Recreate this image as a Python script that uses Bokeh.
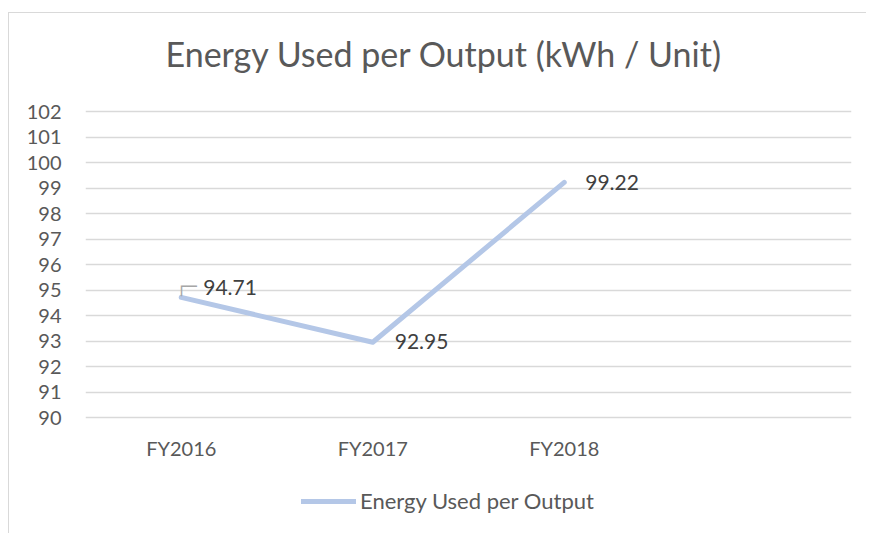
from bokeh.plotting import figure
from bokeh.models import (ColumnDataSource, FactorRange, Range1d, FixedTicker,
                          Legend, LegendItem, Title, InlineStyleSheet)
from bokeh.core.properties import value
from bokeh.embed import file_html
from bokeh.resources import INLINE

# ---- data ----
categories = ["FY2016", "FY2017", "FY2018"]
energy_per_output = [94.71, 92.95, 99.22]
label_texts = ["94.71", "92.95", "99.22"]
extra_slot = [" "]            # empty fourth category slot on the axis
y_ticks = list(range(90, 103))

FONT = "Lato"
GREY = "#595959"
LINE = "#b4c7e7"

# layout geometry (pixels)
PX_PER_UNIT = 25.5     # vertical scale
ABOVE_TOP = 31         # px between frame top and the top tick
BELOW_BOTTOM = 117     # px between lowest tick and frame bottom
y_start = y_ticks[0] - BELOW_BOTTOM / PX_PER_UNIT
y_end = y_ticks[-1] + ABOVE_TOP / PX_PER_UNIT

src = ColumnDataSource(dict(
    x=categories,
    y=energy_per_output,
    txt=label_texts,
    xo=[22, 22, 21],
    yo=[-10, -1, 0],
))
cat_src = ColumnDataSource(dict(x=categories, y=[y_ticks[0]] * len(categories),
                                txt=categories))

p = figure(
    width=858, height=521,
    x_range=FactorRange(factors=categories + extra_slot),
    y_range=Range1d(y_start, y_end),
    x_axis_location=None,
    output_backend="svg", toolbar_location=None,
    min_border_left=76, min_border_right=16,
    min_border_top=67, min_border_bottom=0,
)
p.margin = (12, 0, 0, 8)
p.stylesheets = [InlineStyleSheet(
    css=":host { border-top: 1px solid #d9d9d9; border-left: 1px solid #d9d9d9; }")]
p.outline_line_color = None
p.background_fill_color = "white"
p.border_fill_color = "white"

t = Title(text="Energy Used per Output (kWh / Unit)", align="left", offset=80,
          text_font=FONT, text_font_size="34px", text_font_style="normal",
          text_color=GREY, standoff=14)
p.add_layout(t, "above")

# y axis
p.yaxis.ticker = FixedTicker(ticks=y_ticks)
ax = p.yaxis[0]
ax.axis_line_color = None
ax.major_tick_line_color = None
ax.minor_tick_line_color = None
ax.major_tick_in = 0
ax.major_tick_out = 0
ax.minor_tick_in = 0
ax.minor_tick_out = 0
ax.major_label_text_font = FONT
ax.major_label_text_font_size = "20px"
ax.major_label_text_color = GREY
ax.major_label_standoff = 24

p.xgrid.grid_line_color = None
p.ygrid.grid_line_color = "#d9d9d9"
p.ygrid.grid_line_width = 1.5

# category labels under the lowest gridline
p.text("x", "y", text="txt", source=cat_src, y_offset=30,
       text_font=value(FONT), text_font_size="20px", text_color=GREY,
       text_align="center", text_baseline="middle")

r = p.line("x", "y", source=src, line_color=LINE, line_width=5, line_cap="round",
           line_join="round")

# leader line for first label
p.text(x=categories[:1], y=energy_per_output[:1], text=["\u250c\u2500"],
       text_font=value("DejaVu Sans Mono"), text_font_size="17px",
       text_color="#a6a6a6", x_offset=-5, y_offset=-11,
       text_align="left", text_baseline="middle")

p.text("x", "y", text="txt", source=src, x_offset="xo", y_offset="yo",
       text_font=value(FONT), text_font_size="21px", text_color="#404040",
       text_align="left", text_baseline="middle")

legend = Legend(items=[LegendItem(label="Energy Used per Output", renderers=[r])],
                location=(216, 20), orientation="horizontal",
                border_line_color=None, background_fill_alpha=0,
                label_text_font=FONT, label_text_font_size="22px",
                label_text_color=GREY, glyph_width=55, glyph_height=20,
                label_standoff=4, padding=5, margin=0)
p.add_layout(legend, "center")

open("out.html", "w").write(file_html(p, INLINE))
